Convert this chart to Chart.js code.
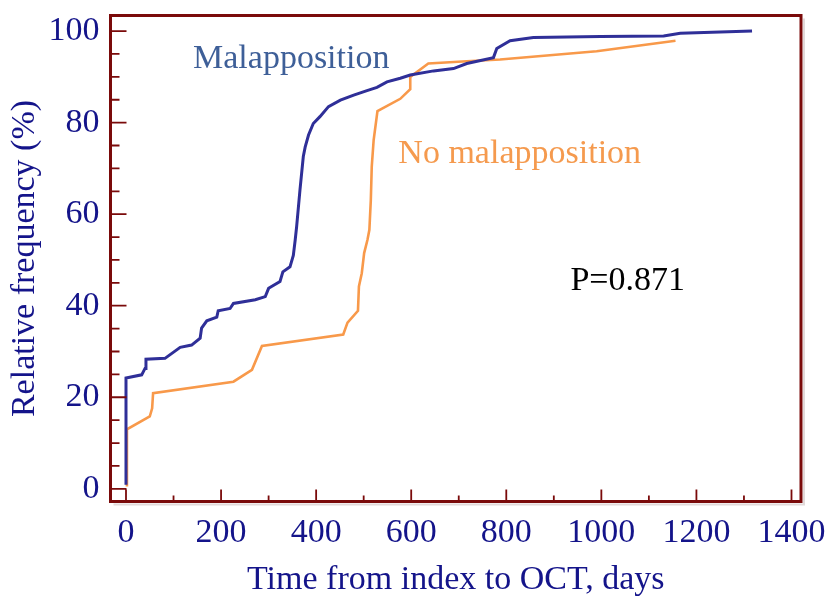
<!DOCTYPE html>
<html>
<head>
<meta charset="utf-8">
<script src="https://cdn.jsdelivr.net/npm/chart.js@4.4.1/dist/chart.umd.min.js"></script>
<style>
  html, body { margin: 0; padding: 0; background: #fff; }
  #wrap { width: 826px; height: 596px; }
</style>
</head>
<body>
<div id="wrap"><canvas id="chart" width="826" height="596"></canvas></div>
<script>
// cumulative curves (days, %)
const malDays = [0, 0, 33, 40, 42, 82, 114, 138, 156, 159, 170, 191, 194, 219, 226, 272, 293, 300, 324, 330, 345, 352, 356, 359, 366, 373, 377, 384, 394, 408, 426, 451, 479, 507, 528, 549, 577, 598, 647, 689, 717, 773, 780, 808, 857, 998, 1131, 1166, 1317];
const malFreq = [0.9, 24.2, 24.9, 26.3, 28.3, 28.5, 30.9, 31.4, 32.9, 35.1, 36.7, 37.5, 38.9, 39.4, 40.5, 41.3, 42.0, 43.8, 45.3, 47.4, 48.5, 51.0, 54.4, 57.3, 65.3, 72.6, 74.7, 77.3, 79.8, 81.3, 83.5, 84.9, 86.0, 87.0, 87.7, 88.9, 89.7, 90.4, 91.3, 91.8, 92.9, 94.2, 96.2, 97.9, 98.6, 98.8, 98.9, 99.5, 100];

const noMalDays = [2, 2, 50, 55, 57, 226, 265, 286, 457, 466, 488, 490, 496, 501, 508, 512, 515, 517, 521, 529, 577, 598, 598, 636, 717, 787, 990, 1156];
const noMalFreq = [0.5, 13.0, 15.8, 17.6, 20.9, 23.4, 26.0, 31.2, 33.7, 36.3, 38.9, 44.2, 47.1, 51.5, 54.4, 56.6, 63.0, 70.4, 76.2, 82.5, 85.2, 87.3, 90.0, 92.9, 93.4, 93.8, 95.6, 97.9];

const xTicks = [0, 200, 400, 600, 800, 1000, 1200, 1400];
const xMinorTicks = [100, 300, 500, 700, 900, 1100, 1300];
const yTicks = [0, 20, 40, 60, 80, 100];
const yMinorTicks = [5, 10, 15, 25, 30, 35, 45, 50, 55, 65, 70, 75, 85, 90, 95];

const SERIF = "'Liberation Serif', 'Times New Roman', serif";
const INK = "#14148a";
const FRAME = "#7a0a0a";

function zip(xs, ys) {
  return xs.map((x, i) => ({ x, y: ys[i] }));
}

// frame, inward tick marks and the in-plot notes
const framePlugin = {
  id: "frame",
  afterDatasetsDraw(chart) {
    const { ctx, chartArea: a, scales } = chart;
    const xs = scales.x;
    const ys = scales.y;
    ctx.save();

    // faint drop shadow
    ctx.strokeStyle = "#e2dada";
    ctx.lineWidth = 2;
    ctx.beginPath();
    ctx.moveTo(a.right + 3, a.top + 3);
    ctx.lineTo(a.right + 3, a.bottom + 3);
    ctx.lineTo(a.left + 3, a.bottom + 3);
    ctx.stroke();

    ctx.strokeStyle = FRAME;
    ctx.lineWidth = 1.8;
    ctx.beginPath();
    yTicks.forEach((v) => {
      const py = ys.getPixelForValue(v);
      ctx.moveTo(a.left, py);
      ctx.lineTo(a.left + 16, py);
    });
    yMinorTicks.forEach((v) => {
      const py = ys.getPixelForValue(v);
      ctx.moveTo(a.left, py);
      ctx.lineTo(a.left + 9, py);
    });
    xTicks.forEach((v) => {
      const px = xs.getPixelForValue(v);
      ctx.moveTo(px, a.bottom);
      ctx.lineTo(px, a.bottom - 12);
    });
    xMinorTicks.forEach((v) => {
      const px = xs.getPixelForValue(v);
      ctx.moveTo(px, a.bottom);
      ctx.lineTo(px, a.bottom - 6);
    });
    ctx.stroke();

    ctx.lineWidth = 3;
    ctx.strokeRect(a.left, a.top, a.right - a.left, a.bottom - a.top);

    ctx.font = `34px ${SERIF}`;
    ctx.textBaseline = "alphabetic";
    ctx.textAlign = "left";
    ctx.fillStyle = "#3e5f98";
    ctx.fillText("Malapposition", xs.getPixelForValue(141), ys.getPixelForValue(91.9));
    ctx.fillStyle = "#f59a4e";
    ctx.fillText("No malapposition", xs.getPixelForValue(573), ys.getPixelForValue(71.2));
    ctx.fillStyle = "#000";
    ctx.fillText("P=0.871", xs.getPixelForValue(935), ys.getPixelForValue(43.4));
    ctx.restore();
  },
};

new Chart(document.getElementById("chart"), {
  type: "line",
  data: {
    datasets: [
      {
        label: "Malapposition",
        data: zip(malDays, malFreq),
        borderColor: "#2f2f98",
        borderWidth: 3,
        pointRadius: 0,
        tension: 0,
        fill: false,
      },
      {
        label: "No malapposition",
        data: zip(noMalDays, noMalFreq),
        borderColor: "#f8994a",
        borderWidth: 2.6,
        pointRadius: 0,
        tension: 0,
        fill: false,
      },
    ],
  },
  options: {
    responsive: false,
    animation: false,
    layout: { padding: { top: 15.5, right: 25, bottom: 0, left: 0 } },
    plugins: {
      legend: { display: false },
      tooltip: { enabled: false },
    },
    scales: {
      x: {
        type: "linear",
        min: -32.6,
        max: 1420,
        grid: { display: false, drawTicks: false },
        border: { display: false },
        afterBuildTicks(scale) {
          scale.ticks = xTicks.map((value) => ({ value }));
        },
        afterFit(scale) {
          scale.height = 94.5;
          scale.paddingLeft = 0;
          scale.paddingRight = 0;
        },
        ticks: {
          autoSkip: false,
          maxRotation: 0,
          minRotation: 0,
          padding: 11,
          color: INK,
          font: { family: SERIF, size: 34 },
          callback: (value) => String(value),
        },
        title: {
          display: true,
          text: "Time from index to OCT, days",
          color: INK,
          font: { family: SERIF, size: 34, lineHeight: 1 },
          padding: { top: 0, bottom: -1.5 },
        },
      },
      y: {
        type: "linear",
        min: -2.77,
        max: 103.4,
        grid: { display: false, drawTicks: false },
        border: { display: false },
        afterBuildTicks(scale) {
          scale.ticks = yTicks.map((value) => ({ value }));
        },
        afterFit(scale) {
          scale.width = 110.5;
          scale.paddingTop = 0;
          scale.paddingBottom = 0;
        },
        ticks: {
          autoSkip: false,
          padding: 11,
          color: INK,
          font: { family: SERIF, size: 34 },
          callback: (value) => String(value),
        },
        title: {
          display: true,
          text: "Relative frequency (%)",
          color: INK,
          font: { family: SERIF, size: 34, lineHeight: 1 },
          padding: { top: 8.5, bottom: 0 },
        },
      },
    },
  },
  plugins: [framePlugin],
});
</script>
</body>
</html>
